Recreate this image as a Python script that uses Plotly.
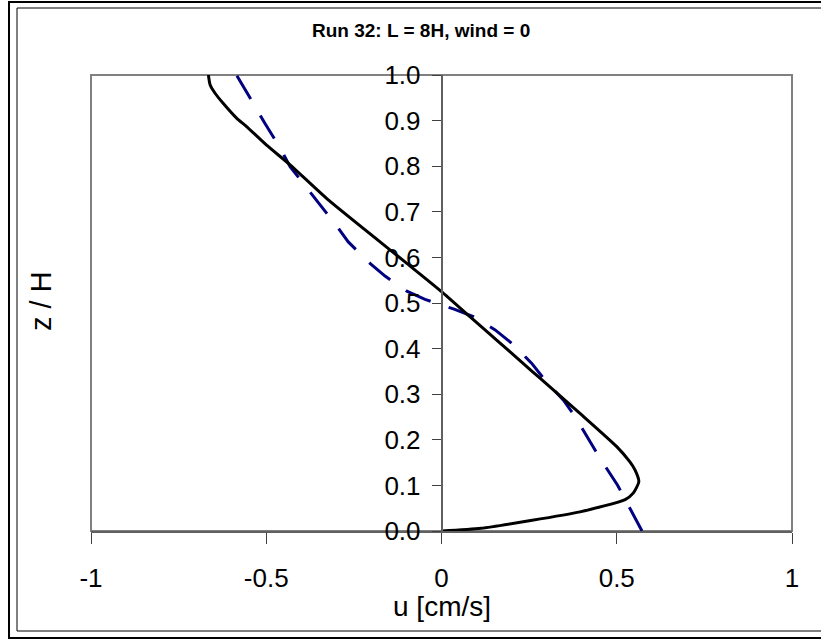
import plotly.graph_objects as go

# Measured velocity profile (solid) and model profile (dashed)
z_meas = [0, 0.006, 0.022, 0.042, 0.069, 0.083, 0.108, 0.134, 0.152, 0.185, 0.258,
          0.335, 0.371, 0.415, 0.47, 0.525, 0.587, 0.726, 0.803, 0.846, 0.887,
          0.905, 0.938, 0.96, 0.978, 1.0]
u_meas = [0, 0.113, 0.247, 0.395, 0.524, 0.547, 0.563, 0.552, 0.537, 0.5, 0.395,
          0.281, 0.228, 0.163, 0.081, 0.0, -0.099, -0.323, -0.432, -0.499, -0.556,
          -0.584, -0.623, -0.646, -0.66, -0.665]

z_model = [0.0, 0.061, 0.101, 0.156, 0.196, 0.251, 0.287, 0.331, 0.368, 0.41,
           0.441, 0.47, 0.487, 0.508, 0.526, 0.559, 0.587, 0.634, 0.669, 0.719,
           0.799, 0.841, 0.894, 0.938, 1.0]
u_model = [0.572, 0.53, 0.502, 0.455, 0.424, 0.381, 0.348, 0.295, 0.257, 0.203,
           0.153, 0.091, 0.034, -0.047, -0.099, -0.161, -0.204, -0.266, -0.299,
           -0.351, -0.432, -0.461, -0.504, -0.537, -0.585]

x_ticks = [-1, -0.5, 0, 0.5, 1]
x_tick_text = ["-1", "-0.5", "0", "0.5", "1"]
y_ticks = [0, 0.1, 0.2, 0.3, 0.4, 0.5, 0.6, 0.7, 0.8, 0.9, 1.0]
y_tick_text = ["0.0", "0.1", "0.2", "0.3", "0.4", "0.5", "0.6", "0.7", "0.8", "0.9", "1.0"]

title_text = "Run 32: L = 8H, wind = 0"
x_title = "u [cm/s]"
y_title = "z / H"

W, H = 821, 640
L, R, T, B = 91, 792, 75, 531  # plot area in pixels


def px(x):
    return (x - L) / (R - L)


def py(y):
    return (B - y) / (B - T)


FONT = "Liberation Sans, Arial, sans-serif"
GRAY = "#808080"

fig = go.Figure()
fig.add_trace(go.Scatter(
    x=u_model, y=z_model, mode="lines",
    line=dict(color="#000080", width=3, dash="27px,19px"),
    hoverinfo="skip", showlegend=False))
fig.add_trace(go.Scatter(
    x=u_meas, y=z_meas, mode="lines",
    line=dict(color="black", width=3, shape="spline", smoothing=0.6),
    hoverinfo="skip", showlegend=False))

fig.update_layout(
    width=W, height=H,
    margin=dict(l=L, r=W - R, t=T, b=H - B, pad=0),
    paper_bgcolor="white", plot_bgcolor="white",
    font=dict(family=FONT, color="black", size=26),
    xaxis=dict(range=[-1, 1], tickvals=x_ticks, ticktext=x_tick_text,
               ticks="outside", ticklen=11, tickwidth=1, tickcolor="#404040",
               showline=True, linecolor="#606060", linewidth=1.5,
               showgrid=False, zeroline=False, ticklabelstandoff=12,
               tickfont=dict(size=26)),
    yaxis=dict(range=[0, 1], tickvals=y_ticks, ticktext=y_tick_text,
               anchor="free", position=0.5, side="left",
               ticks="outside", ticklen=9, tickwidth=1, tickcolor="#404040",
               showline=True, linecolor="#606060", linewidth=1.5,
               showgrid=False, zeroline=False, ticklabelstandoff=6,
               tickfont=dict(size=26)),
    shapes=[
        # plot area frame
        dict(type="rect", xref="paper", yref="paper", x0=0, x1=1, y0=0, y1=1,
             line=dict(color=GRAY, width=2), layer="below"),
        # chart area double frame
        dict(type="rect", xref="paper", yref="paper",
             x0=px(9), x1=px(840), y0=py(638), y1=py(2),
             line=dict(color="black", width=2)),
        dict(type="rect", xref="paper", yref="paper",
             x0=px(17), x1=px(832), y0=py(631), y1=py(8),
             line=dict(color="black", width=1)),
    ],
    annotations=[
        dict(text="<b>" + title_text + "</b>", xref="paper", yref="paper",
             x=px(421), y=py(31), showarrow=False, xanchor="center", yanchor="middle",
             font=dict(size=19)),
        dict(text=x_title, xref="paper", yref="paper",
             x=px(441.5), y=py(606), showarrow=False, xanchor="center", yanchor="middle",
             font=dict(size=28)),
        dict(text=y_title, xref="paper", yref="paper", textangle=-90,
             x=px(41), y=py(301), showarrow=False, xanchor="center", yanchor="middle",
             font=dict(size=29)),
    ],
)

fig.write_html("out.html")
